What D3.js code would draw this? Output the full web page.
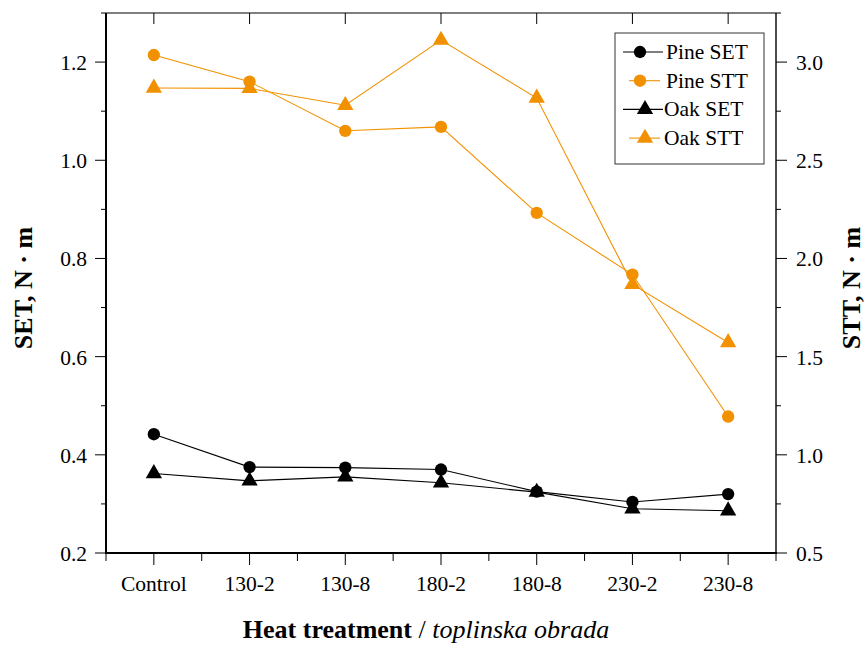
<!DOCTYPE html>
<html><head><meta charset="utf-8">
<script src="https://cdn.jsdelivr.net/npm/d3@7"></script>
<style>body{margin:0;background:#fff}svg{display:block}</style>
</head><body><svg id="c" width="865" height="648" font-family="'Liberation Serif', 'Times New Roman', Times, 'DejaVu Serif', serif"></svg>
<script>
const categories = ["Control","130-2","130-8","180-2","180-8","230-2","230-8"];
const pineSET = [0.442,0.375,0.374,0.370,0.325,0.304,0.320];
const oakSET  = [0.362,0.347,0.355,0.343,0.324,0.290,0.286];
const pineSTT = [3.036,2.900,2.650,2.670,2.232,1.918,1.195];
const oakSTT  = [2.868,2.866,2.780,3.112,2.817,1.868,1.572];
const leftTicks = [0.2,0.4,0.6,0.8,1.0,1.2];
const rightTicks = [0.5,1.0,1.5,2.0,2.5,3.0];
const orange = "#f29100";

const svg = d3.select("#c");
const L=106,R=776,T=13,B=553;
const FS=21.5;
const x = d3.scaleLinear().domain([-0.5,6.5]).range([L,R]);
const yL = d3.scaleLinear().domain([0.2,1.3]).range([B,T]);
const yR = d3.scaleLinear().domain([0.5,3.25]).range([B,T]);

// left axis
const gl = svg.append("g");
gl.selectAll("line.mn").data(d3.range(0.3,1.31,0.2)).join("line")
  .attr("x1",L-5).attr("x2",L).attr("y1",d=>yL(d)).attr("y2",d=>yL(d)).attr("stroke","#000");
gl.selectAll("line.mj").data(leftTicks).join("line")
  .attr("x1",L-11).attr("x2",L).attr("y1",d=>yL(d)).attr("y2",d=>yL(d)).attr("stroke","#000");
gl.selectAll("text").data(leftTicks).join("text")
  .attr("x",L-19).attr("y",d=>yL(d)+8).attr("text-anchor","end").attr("font-size",FS)
  .text(d=>d3.format(".1f")(d));
// right axis
const gr = svg.append("g");
gr.selectAll("line.mn").data(d3.range(0.75,3.26,0.5)).join("line")
  .attr("x1",R).attr("x2",R+5).attr("y1",d=>yR(d)).attr("y2",d=>yR(d)).attr("stroke","#000");
gr.selectAll("line.mj").data(rightTicks).join("line")
  .attr("x1",R).attr("x2",R+11).attr("y1",d=>yR(d)).attr("y2",d=>yR(d)).attr("stroke","#000");
gr.selectAll("text").data(rightTicks).join("text")
  .attr("x",R+20).attr("y",d=>yR(d)+8).attr("text-anchor","start").attr("font-size",FS)
  .text(d=>d3.format(".1f")(d));
// x axis
const idx = categories.map((c,i)=>i);
const gx = svg.append("g");
gx.selectAll("line.mj").data(idx).join("line")
  .attr("x1",d=>x(d)).attr("x2",d=>x(d)).attr("y1",B).attr("y2",B+12).attr("stroke","#000");
gx.selectAll("line.mn").data(d3.range(-0.5,6.6,1)).join("line")
  .attr("x1",d=>x(d)).attr("x2",d=>x(d)).attr("y1",B).attr("y2",B+8).attr("stroke","#000");
gx.selectAll("line.tp").data(idx).join("line")
  .attr("x1",d=>x(d)).attr("x2",d=>x(d)).attr("y1",T).attr("y2",T+11).attr("stroke","#000");
gx.selectAll("text").data(categories).join("text")
  .attr("x",(d,i)=>x(i)).attr("y",B+38).attr("text-anchor","middle").attr("font-size",FS).text(d=>d);

// frame
svg.append("line").attr("x1",L).attr("x2",R).attr("y1",T).attr("y2",T).attr("stroke","#000").attr("stroke-width",1.2);
svg.append("line").attr("x1",R).attr("x2",R).attr("y1",T).attr("y2",B).attr("stroke","#000").attr("stroke-width",1.4);
svg.append("line").attr("x1",L).attr("x2",L).attr("y1",T).attr("y2",B+1).attr("stroke","#000").attr("stroke-width",2);
svg.append("line").attr("x1",L-1).attr("x2",R+1).attr("y1",B).attr("y2",B).attr("stroke","#000").attr("stroke-width",2);

// series
const series = [
  {name:"Pine SET",vals:pineSET,y:yL,color:"#000",sym:d3.symbolCircle},
  {name:"Pine STT",vals:pineSTT,y:yR,color:orange,sym:d3.symbolCircle},
  {name:"Oak SET",vals:oakSET,y:yL,color:"#000",sym:d3.symbolTriangle},
  {name:"Oak STT",vals:oakSTT,y:yR,color:orange,sym:d3.symbolTriangle}
];
const symSize = s => s===d3.symbolCircle ? 120 : 115;
series.forEach(s=>{
  const line = d3.line().x((d,i)=>x(i)).y(d=>s.y(d));
  svg.append("path").attr("d",line(s.vals)).attr("fill","none").attr("stroke",s.color).attr("stroke-width",1.1);
  svg.selectAll(null).data(s.vals).join("path")
    .attr("transform",(d,i)=>`translate(${x(i)},${s.y(d)})`)
    .attr("d",d3.symbol().type(s.sym).size(symSize(s.sym))).attr("fill",s.color);
});

// legend
const lg = svg.append("g");
lg.append("rect").attr("x",615).attr("y",33).attr("width",149).attr("height",131)
  .attr("fill","#fff").attr("stroke","#333").attr("stroke-width",1);
series.forEach((s,i)=>{
  const yy = 52 + i*28.7;
  lg.append("line").attr("x1",s.color==="#000"?623:629).attr("x2",s.color==="#000"?663:660)
    .attr("y1",yy).attr("y2",yy).attr("stroke",s.color).attr("stroke-width",1.1);
  lg.append("path").attr("transform",`translate(${s.sym===d3.symbolCircle?640:645},${yy})`)
    .attr("d",d3.symbol().type(s.sym).size(symSize(s.sym))).attr("fill",s.color);
  lg.append("text").attr("x",s.sym===d3.symbolCircle?666:664).attr("y",yy+7).attr("font-size",FS).text(s.name);
});

// axis titles
svg.append("text").attr("transform",`translate(32,288) rotate(-90)`).attr("text-anchor","middle")
  .attr("font-size",26).attr("font-weight","bold").text("SET, N · m");
svg.append("text").attr("transform",`translate(860,288) rotate(-90)`).attr("text-anchor","middle")
  .attr("font-size",26).attr("font-weight","bold").text("STT, N · m");
const xt = svg.append("text").attr("x",426).attr("y",638).attr("text-anchor","middle").attr("font-size",26);
xt.append("tspan").attr("font-weight","bold").text("Heat treatment");
xt.append("tspan").text(" / ");
xt.append("tspan").attr("font-style","italic").text("toplinska obrada");
</script></body></html>
